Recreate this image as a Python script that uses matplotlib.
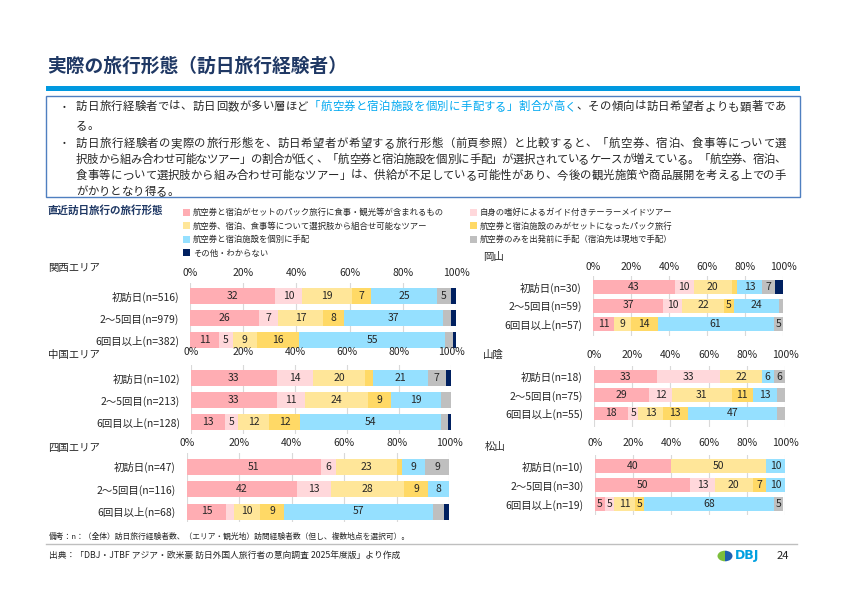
import matplotlib
matplotlib.use('Agg')
import matplotlib.pyplot as plt
from matplotlib.patches import Rectangle, Wedge
import matplotlib.transforms as mtransforms

plt.rcParams['font.family'] = ['Noto Sans CJK JP', 'DejaVu Sans']

# ---------------- data ----------------
series = [
    '航空券と宿泊がセットのパック旅行に食事・観光等が含まれるもの',
    '自身の嗜好によるガイド付きテーラーメイドツアー',
    '航空券、宿泊、食事等について選択肢から組合せ可能なツアー',
    '航空券と宿泊施設のみがセットになったパック旅行',
    '航空券と宿泊施設を個別に手配',
    '航空券のみを出発前に手配（宿泊先は現地で手配）',
    'その他・わからない',
]
ticks = [0, 20, 40, 60, 80, 100]

kansai_rows = ['初訪日(n=516)', '2～5回目(n=979)', '6回目以上(n=382)']
kansai = [[32, 10, 19, 7, 25, 5, 2],
          [26, 7, 17, 8, 37, 3, 2],
          [11, 5, 9, 16, 55, 3, 1]]

chugoku_rows = ['初訪日(n=102)', '2～5回目(n=213)', '6回目以上(n=128)']
chugoku = [[33, 14, 20, 3, 21, 7, 2],
           [33, 11, 24, 9, 19, 4, 0],
           [13, 5, 12, 12, 54, 3, 1]]

shikoku_rows = ['初訪日(n=47)', '2～5回目(n=116)', '6回目以上(n=68)']
shikoku = [[51, 6, 23, 2, 9, 9, 0],
           [42, 13, 28, 9, 8, 1, 0],
           [15, 3, 10, 9, 57, 4, 2]]

okayama_rows = ['初訪日(n=30)', '2～5回目(n=59)', '6回目以上(n=57)']
okayama = [[43, 10, 20, 3, 13, 7, 4],
           [37, 10, 22, 5, 24, 2, 0],
           [11, 0, 9, 14, 61, 5, 0]]

sanin_rows = ['初訪日(n=18)', '2～5回目(n=75)', '6回目以上(n=55)']
sanin = [[33, 33, 22, 0, 6, 6, 0],
         [29, 12, 31, 11, 13, 4, 0],
         [18, 5, 13, 13, 47, 4, 0]]

matsuyama_rows = ['初訪日(n=10)', '2～5回目(n=30)', '6回目以上(n=19)']
matsuyama = [[40, 0, 50, 0, 10, 0, 0],
             [50, 13, 20, 7, 10, 0, 0],
             [5, 5, 11, 5, 68, 5, 0]]

# ---------------- style ----------------
colors = ['#FFADB3', '#FFD8DB', '#FFE699', '#FFD966', '#95E0FF', '#BFBFBF', '#002060']
TXT = '#262626'
NAVY = '#1F3864'
HL = '#00A8F0'

W, H = 842, 596
fig = plt.figure(figsize=(W / 100, H / 100), dpi=100)


def fx(x):
    return x / W


def fy(y):
    return 1 - y / H


# ---------------- header ----------------
fig.text(fx(47), fy(66), '実際の旅行形態（訪日旅行経験者）', fontsize=13.5, fontweight='bold',
         color=NAVY, ha='left', va='center')
fig.patches.append(Rectangle((fx(46), fy(91)), fx(800) - fx(46), (91 - 86) / H,
                             transform=fig.transFigure, color='#0099E0', lw=0))
fig.patches.append(Rectangle((fx(46), fy(197)), fx(800) - fx(46), (197 - 96) / H,
                             transform=fig.transFigure, fill=False, ec='#4F7FC0', lw=1.0))

renderer = fig.canvas.get_renderer()
BODY_FS = 8.2
_wcache = {}


def char_w(ch):
    if ch not in _wcache:
        t = fig.text(0, 0, ch, fontsize=BODY_FS)
        _wcache[ch] = t.get_window_extent(renderer=renderer).width
        t.remove()
    return _wcache[ch]


def draw_line(x, y, segments, target=None):
    chars = [(ch, col) for text, col in segments for ch in text]
    widths = [char_w(ch) for ch, _ in chars]
    natural = sum(widths)
    extra = 0.0
    if target is not None and len(chars) > 1:
        extra = (target - x - natural) / (len(chars) - 1)
    cx = x
    for (ch, col), w in zip(chars, widths):
        fig.text(fx(cx), fy(y + 3.8), ch, fontsize=BODY_FS, color=col, ha='left', va='baseline')
        cx += w + extra


RIGHT = 786
fig.text(fx(64), fy(106), '•', fontsize=6, color=TXT, ha='center', va='center')
fig.text(fx(64), fy(143), '•', fontsize=6, color=TXT, ha='center', va='center')
draw_line(76, 106, [('訪日旅行経験者では、訪日回数が多い層ほど', TXT),
                    ('「航空券と宿泊施設を個別に手配する」割合が高く', HL),
                    ('、その傾向は訪日希望者よりも顕著であ', TXT)], RIGHT)
draw_line(76, 125, [('る。', TXT)])
draw_line(76, 143, [('訪日旅行経験者の実際の旅行形態を、訪日希望者が希望する旅行形態（前頁参照）と比較すると、「航空券、宿泊、食事等について選', TXT)], RIGHT)
draw_line(76, 159, [('択肢から組み合わせ可能なツアー」の割合が低く、「航空券と宿泊施設を個別に手配」が選択されているケースが増えている。「航空券、宿泊、', TXT)], RIGHT)
draw_line(76, 175, [('食事等について選択肢から組み合わせ可能なツアー」は、供給が不足している可能性があり、今後の観光施策や商品展開を考える上での手', TXT)], RIGHT)
draw_line(76, 191, [('がかりとなり得る。', TXT)])

# ---------------- legend ----------------
fig.text(fx(47), fy(210), '直近訪日旅行の旅行形態', fontsize=7.6, fontweight='bold',
         color=NAVY, ha='left', va='center')
leg_pos = [(183, 212), (470, 212), (183, 226), (470, 226), (183, 239), (470, 239), (183, 253)]
for k, (lx, ly) in enumerate(leg_pos):
    fig.patches.append(Rectangle((fx(lx), fy(ly + 3.5)), 7 / W, 7 / H,
                                 transform=fig.transFigure, color=colors[k], lw=0))
    fig.text(fx(lx + 10), fy(ly), series[k], fontsize=6, color=TXT, ha='left', va='center')


# ---------------- panels ----------------
def panel(title, title_xy, rows, data, x0, x1, c0, s, h, top, bottom, tick_y):
    ax = fig.add_axes([fx(x0), fy(bottom), (x1 - x0) / W, (bottom - top) / H])
    ax.set_xlim(0, 100)
    ax.set_ylim((bottom - c0) / s, (top - c0) / s)
    ys = list(range(len(rows)))
    left = [0] * len(rows)
    for k in range(len(series)):
        vals = [r[k] for r in data]
        ax.barh(ys, vals, left=left, height=h / s, color=colors[k], lw=0, zorder=2)
        for yi, v, l in zip(ys, vals, left):
            if v >= 5:
                ax.text(l + v / 2, yi, f'{v}', ha='center', va='center', fontsize=7.5,
                        color=TXT, zorder=3)
        left = [a + b for a, b in zip(left, vals)]
    ax.set_xticks(ticks)
    ax.tick_params(axis='x', length=0, labelbottom=False, labeltop=False)
    ax.grid(axis='x', color='#D9D9D9', lw=0.8, zorder=0)
    ax.set_axisbelow(True)
    ax.set_yticks(ys)
    ax.set_yticklabels(rows, fontsize=7.5, color=TXT)
    ax.tick_params(axis='y', length=0, pad=8)
    for sp in ax.spines.values():
        sp.set_visible(False)
    trans = mtransforms.blended_transform_factory(ax.transData, fig.transFigure)
    for t in ticks:
        ax.text(t, fy(tick_y), f'{t}%', transform=trans, ha='center', va='center',
                fontsize=7.5, color=TXT, clip_on=False)
    fig.text(fx(title_xy[0]), fy(title_xy[1]), title, ha='left', va='center',
             fontsize=7.5, color=TXT)
    return ax


panel('関西エリア', (48, 268), kansai_rows, kansai, 190, 456, 296, 22, 16, 283, 352, 273)
panel('中国エリア', (48, 355), chugoku_rows, chugoku, 191, 451, 378, 22, 16, 365, 434, 352)
panel('四国エリア', (48, 448), shikoku_rows, shikoku, 187, 449, 466.5, 22.5, 16, 453, 522, 443)
panel('岡山', (483, 257), okayama_rows, okayama, 593, 783, 287, 18.5, 14, 276, 336, 267)
panel('山陰', (483, 355), sanin_rows, sanin, 594, 785, 376.5, 18.5, 13.5, 366, 427, 355)
panel('松山', (485, 447), matsuyama_rows, matsuyama, 595, 785, 466, 19, 14, 455, 515, 443)

# ---------------- footer ----------------
fig.text(fx(49), fy(537), '備考：n：（全体）訪日旅行経験者数、（エリア・観光地）訪問経験者数（但し、複数地点を選択可）。',
         fontsize=5.6, color=TXT, ha='left', va='center')
fig.lines.append(plt.Line2D([fx(46), fx(797)], [fy(544), fy(544)], transform=fig.transFigure,
                            color='#BFBFBF', lw=1.0))
fig.text(fx(49), fy(555), '出典：「DBJ・JTBF アジア・欧米豪 訪日外国人旅行者の意向調査 2025年度版」より作成',
         fontsize=6.3, color=TXT, ha='left', va='center')

# logo
lx, ly, lr = 725, 556, 7.5
fig.patches.append(Wedge((fx(lx), fy(ly)), lr / W, 90, 270, transform=fig.transFigure,
                         color='#7DBE3C', lw=0))
fig.patches.append(Wedge((fx(lx), fy(ly)), lr / W, -90, 90, transform=fig.transFigure,
                         color='#1F5FB0', lw=0))
fig.text(fx(735), fy(556), 'DBJ', fontsize=9, fontweight='bold', color='#00A0E0',
         ha='left', va='center', family='DejaVu Sans')
fig.text(fx(783), fy(556), '24', fontsize=8, color=TXT, ha='center', va='center')

fig.savefig('out.png', dpi=100)
